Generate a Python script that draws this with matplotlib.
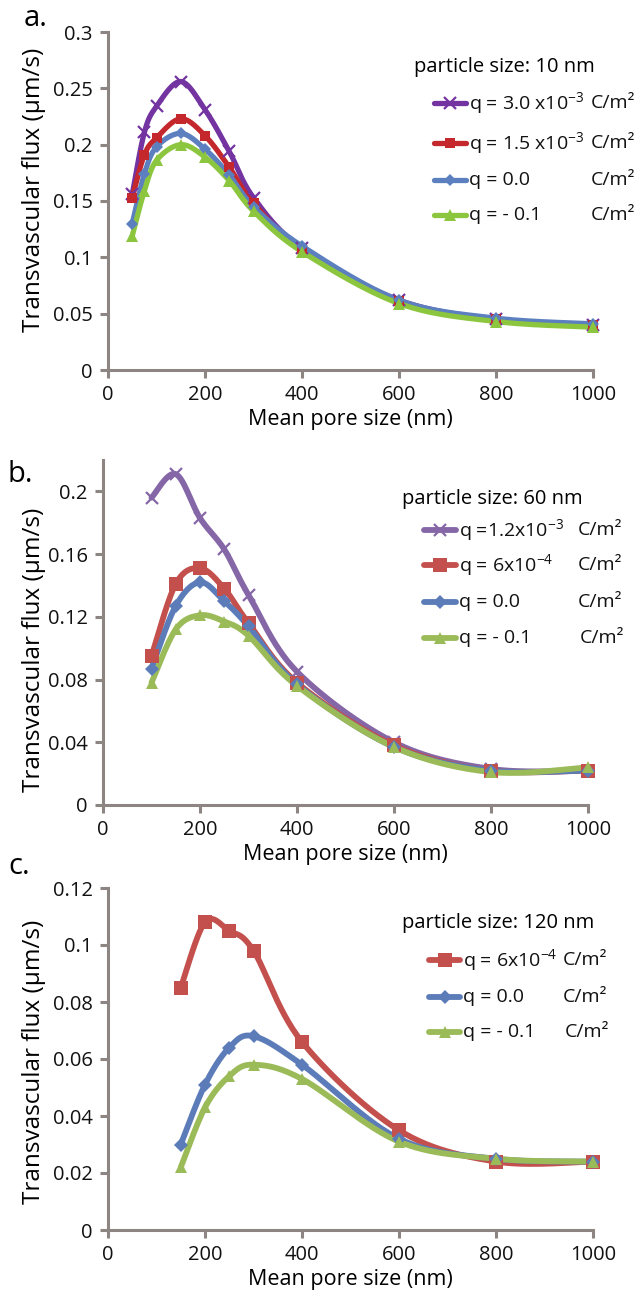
import numpy as np
import matplotlib
matplotlib.use("Agg")
import matplotlib.pyplot as plt
from matplotlib.lines import Line2D

plt.rcParams['font.family'] = ['Open Sans', 'DejaVu Sans']
plt.rcParams['mathtext.fontset'] = 'custom'
plt.rcParams['mathtext.rm'] = 'Open Sans'
plt.rcParams['mathtext.it'] = 'Open Sans'
plt.rcParams['mathtext.default'] = 'regular'

# ---------------- data ----------------
x_a = [50, 75, 100, 150, 200, 250, 300, 400, 600, 800, 1000]
a_q30 = [0.156, 0.211, 0.234, 0.256, 0.231, 0.194, 0.153, 0.108, 0.062, 0.045, 0.040]
a_q15 = [0.153, 0.191, 0.206, 0.223, 0.208, 0.180, 0.148, 0.107, 0.061, 0.045, 0.040]
a_q00 = [0.130, 0.174, 0.198, 0.210, 0.196, 0.173, 0.145, 0.110, 0.062, 0.046, 0.041]
a_qm1 = [0.119, 0.159, 0.186, 0.200, 0.189, 0.168, 0.141, 0.105, 0.059, 0.043, 0.038]

x_b = [100, 150, 200, 250, 300, 400, 600, 800, 1000]
b_q12 = [0.196, 0.211, 0.183, 0.163, 0.134, 0.085, 0.040, 0.023, 0.022]
b_q06 = [0.095, 0.141, 0.151, 0.138, 0.116, 0.078, 0.038, 0.022, 0.022]
b_q00 = [0.087, 0.127, 0.142, 0.130, 0.114, 0.077, 0.037, 0.022, 0.022]
b_qm1 = [0.078, 0.112, 0.121, 0.117, 0.108, 0.076, 0.037, 0.021, 0.024]

x_c = [150, 200, 250, 300, 400, 600, 800, 1000]
c_q06 = [0.085, 0.108, 0.105, 0.098, 0.066, 0.035, 0.024, 0.024]
c_q00 = [0.030, 0.051, 0.064, 0.068, 0.058, 0.032, 0.025, 0.024]
c_qm1 = [0.022, 0.043, 0.054, 0.058, 0.053, 0.031, 0.025, 0.024]

labels_a = ["q = 3.0 x10$^{-3}$", "q = 1.5 x10$^{-3}$", "q = 0.0", "q = - 0.1"]
labels_b = ["q =1.2x10$^{-3}$", "q = 6x10$^{-4}$", "q = 0.0", "q = - 0.1"]
labels_c = ["q = 6x10$^{-4}$", "q = 0.0", "q = - 0.1"]
unit = "C/m\u00b2"

W, H = 637, 1302
fig = plt.figure(figsize=(W / 100, H / 100), dpi=100)
fig.patch.set_facecolor('white')

AX_COL = '#8c8582'


def fx(px):
    return px / W


def fy(py):
    return 1 - py / H


def smooth(ax, xs, ys, n=30):
    """Excel-like smoothed line (Bezier, Catmull-Rom control points) in display space."""
    pts = ax.transData.transform(np.column_stack([xs, ys]))
    P = np.vstack([pts[0], pts, pts[-1]])
    out = []
    for i in range(1, len(P) - 2):
        p0, p1, p2, p3 = P[i - 1], P[i], P[i + 1], P[i + 2]
        c1 = p1 + (p2 - p0) / 6.0
        c2 = p2 - (p3 - p1) / 6.0
        t = np.linspace(0, 1, n)[:, None]
        seg = ((1 - t) ** 3) * p1 + 3 * ((1 - t) ** 2) * t * c1 + 3 * (1 - t) * t ** 2 * c2 + t ** 3 * p2
        out.append(seg if i == 1 else seg[1:])
    seg = np.vstack(out)
    return ax.transData.inverted().transform(seg).T


def style_axes(ax, ymax, ystep, yfmt):
    ax.set_xlim(0, 1000)
    ax.set_ylim(0, ymax)
    ax.set_xticks(np.arange(0, 1001, 200))
    yt = np.arange(0, ymax + 1e-9, ystep)
    ax.set_yticks(yt)
    ax.set_yticklabels([yfmt(v) for v in yt])
    for s in ['top', 'right']:
        ax.spines[s].set_visible(False)
    for s in ['left', 'bottom']:
        ax.spines[s].set_color(AX_COL)
        ax.spines[s].set_linewidth(2.2)
    ax.tick_params(direction='out', length=6, width=2.2, color=AX_COL,
                   labelsize=14.5, labelcolor='#111111', pad=5)
    ax.set_facecolor('none')


def plot_series(ax, xs, ys, color, marker, ms, lw, mew=0):
    sx, sy = smooth(ax, xs, ys)
    ax.plot(sx, sy, color=color, lw=lw, solid_capstyle='round', zorder=3)
    if marker == 'x':
        ax.plot(xs, ys, ls='none', marker='x', ms=ms, mew=mew, color=color, zorder=4, clip_on=False)
    else:
        ax.plot(xs, ys, ls='none', marker=marker, ms=ms, mew=0, color=color, zorder=4, clip_on=False)


def legend_entry(y, x0, x1, xt, xu, color, marker, ms, lw, label, fs, mew=0):
    line = Line2D([fx(x0), fx(x1)], [fy(y), fy(y)], transform=fig.transFigure,
                  color=color, lw=lw, solid_capstyle='round')
    fig.add_artist(line)
    mk = Line2D([fx((x0 + x1) / 2)], [fy(y)], transform=fig.transFigure, ls='none',
                marker=marker, ms=ms, mew=(mew if marker == 'x' else 0), color=color)
    fig.add_artist(mk)
    fig.text(fx(xt), fy(y), label, fontsize=fs, va='center', ha='left', color='#111111')
    fig.text(fx(xu), fy(y), unit, fontsize=fs, va='center', ha='left', color='#111111')


# colours
PUR_A, RED_A, BLU_A, GRN_A = '#7333a0', '#c4282c', '#5b7fbf', '#8cc63f'
PUR, RED, BLU, GRN = '#8566a6', '#c4504d', '#5b7cb8', '#9bbb59'
LFS = 14

# ---------------- panel a ----------------
ax_a = fig.add_axes([fx(108), fy(370), fx(593) - fx(108), fy(32) - fy(370)])
style_axes(ax_a, 0.3, 0.05, lambda v: '0' if v == 0 else f'{v:g}')
plot_series(ax_a, x_a, a_q30, PUR_A, 'x', 8, 3.8, mew=1.6)
plot_series(ax_a, x_a, a_q15, RED_A, 's', 7, 3.8)
plot_series(ax_a, x_a, a_q00, BLU_A, 'D', 6, 3.8)
plot_series(ax_a, x_a, a_qm1, GRN_A, '^', 8, 3.8)
ax_a.set_xlabel('Mean pore size (nm)', fontsize=15.5, labelpad=3)

fig.text(fx(414), fy(67), 'particle size: 10 nm', fontsize=14.5, va='center', ha='left')
leg_a = [(103, PUR_A, 'x', 8, labels_a[0]), (143, RED_A, 's', 7, labels_a[1]),
         (180, BLU_A, 'D', 6, labels_a[2]), (215, GRN_A, '^', 8, labels_a[3])]
for y, c, m, ms, lab in leg_a:
    legend_entry(y, 434, 466, 469, 591, c, m, ms, 3.8, lab, LFS, mew=1.6)

# ---------------- panel b ----------------
ax_b = fig.add_axes([fx(103), fy(805), fx(588) - fx(103), fy(460) - fy(805)])
style_axes(ax_b, 0.22, 0.04, lambda v: '0' if v == 0 else f'{v:g}')
ax_b.set_ylim(0, 0.22)
plot_series(ax_b, x_b, b_q12, PUR, 'x', 9, 4.2, mew=1.6)
plot_series(ax_b, x_b, b_q06, RED, 's', 10, 4.2)
plot_series(ax_b, x_b, b_q00, BLU, 'D', 7, 4.2)
plot_series(ax_b, x_b, b_qm1, GRN, '^', 9, 4.2)
ax_b.set_xlabel('Mean pore size (nm)', fontsize=15.5, labelpad=3)

fig.text(fx(402), fy(499), 'particle size: 60 nm', fontsize=14.5, va='center', ha='left')
leg_b = [(530, PUR, 'x', 9, labels_b[0], 578), (565, RED, 's', 10, labels_b[1], 578),
         (602, BLU, 'D', 7, labels_b[2], 578), (638, GRN, '^', 9, labels_b[3], 580)]
for y, c, m, ms, lab, xu in leg_b:
    legend_entry(y, 424, 456, 459, xu, c, m, ms, 4.2, lab, LFS, mew=1.6)

# ---------------- panel c ----------------
ax_c = fig.add_axes([fx(108), fy(1230), fx(593) - fx(108), fy(888) - fy(1230)])
style_axes(ax_c, 0.12, 0.02, lambda v: '0' if v == 0 else f'{v:g}')
plot_series(ax_c, x_c, c_q06, RED, 's', 10, 4.2)
plot_series(ax_c, x_c, c_q00, BLU, 'D', 7, 4.2)
plot_series(ax_c, x_c, c_qm1, GRN, '^', 9, 4.2)
ax_c.set_xlabel('Mean pore size (nm)', fontsize=15.5, labelpad=3)

fig.text(fx(402), fy(923), 'particle size: 120 nm', fontsize=14.5, va='center', ha='left')
leg_c = [(960, RED, 's', 10, labels_c[0], 563), (997, BLU, 'D', 7, labels_c[1], 563),
         (1032, GRN, '^', 9, labels_c[2], 565)]
for y, c, m, ms, lab, xu in leg_c:
    legend_entry(y, 429, 460, 463, xu, c, m, ms, 4.2, lab, LFS, mew=1.6)

# y labels and panel letters
for yc in (190, 650, 1062):
    fig.text(fx(34), fy(yc), 'Transvascular flux (\u03bcm/s)', fontsize=17.5,
             rotation=90, va='center', ha='center')
fig.text(fx(24), fy(18), 'a.', fontsize=21, va='center', ha='left')
fig.text(fx(8), fy(474), 'b.', fontsize=21, va='center', ha='left')
fig.text(fx(8), fy(866), 'c.', fontsize=21, va='center', ha='left')

fig.savefig('out.png', dpi=100, facecolor='white')
